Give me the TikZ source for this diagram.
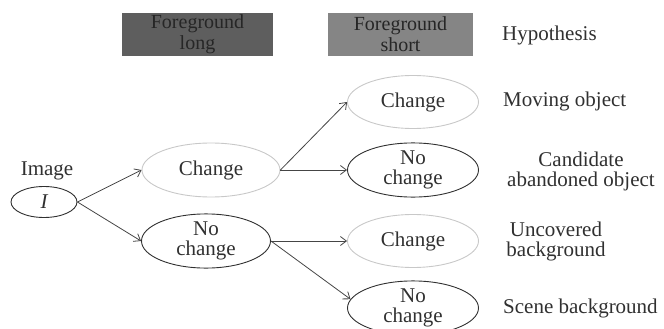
\documentclass[tikz,border=0pt]{standalone}
\usepackage{fontspec}
\setmainfont{Liberation Serif}
\usetikzlibrary{arrows.meta,shapes.geometric}
\definecolor{txt}{HTML}{303030}
\definecolor{hdrtxt}{HTML}{262626}
\definecolor{darkbox}{HTML}{5E5E5E}
\definecolor{lightbox}{HTML}{858585}
\definecolor{lightedge}{HTML}{C8C8C8}
\begin{document}
\begin{tikzpicture}[x=1pt,y=-1pt,
  every node/.style={font=\fontsize{21}{20}\selectfont, text=txt, align=center, inner sep=0pt},
  ell/.style={draw=txt, line width=0.9pt, ellipse, minimum width=131pt, minimum height=53pt},
  lell/.style={draw=lightedge, line width=0.9pt, ellipse, minimum width=131pt, minimum height=53pt},
  hdr/.style={rectangle, text=hdrtxt, minimum height=43pt},
  lab/.style={anchor=west},
  arr/.style={draw=txt!90, line width=0.8pt, -{Straight Barb[length=6pt,width=9pt]}}
]
\useasboundingbox (0,0) rectangle (664,329);
\path (0,0) rectangle (664,329);
% header boxes
\node[hdr, fill=darkbox, minimum width=151pt, font=\fontsize{20}{18}\selectfont] (fl) at (197.5,34.5) {\raisebox{3pt}{\shortstack{Foreground\\long}}};
\node[hdr, fill=lightbox, minimum width=145pt, font=\fontsize{20}{18}\selectfont] (fs) at (400.5,35) {\raisebox{2pt}{\shortstack{Foreground\\short}}};
\node[lab] (hyp) at (502,35) {Hypothesis};
% image
\node (imglab) at (47,171) {Image};
\node[draw=txt, line width=0.9pt, ellipse, minimum width=66pt, minimum height=31pt] (I) at (44,202) {\itshape I};
% level 1
\node[lell, minimum width=138pt, minimum height=54pt] (c1) at (211,170) {Change};
\node[ell, minimum width=129pt] (n1) at (206,241) {No\\change};
% level 2
\node[lell] (c2a) at (413,102) {Change};
\node[ell] (n2a) at (413,170) {No\\change};
\node[lell] (c2b) at (413,241) {Change};
\node[ell] (n2b) at (413,308) {No\\change};
% labels
\node[lab] (l1) at (503,101) {Moving object};
\node (l2) at (581,171) {Candidate\\abandoned object};
\node (l3) at (556,241) {Uncovered\\background};
\node[lab] (l4) at (503,308) {Scene background};
% arrows
\draw[arr] (I.east) -- (c1.west);
\draw[arr] (I.east) -- (n1.west);
\draw[arr] (c1.east) -- (c2a.west);
\draw[arr] (c1.east) -- (n2a.west);
\draw[arr] (n1.east) -- (c2b.west);
\draw[arr] (n1.east) -- (n2b.172);
\end{tikzpicture}
\end{document}
